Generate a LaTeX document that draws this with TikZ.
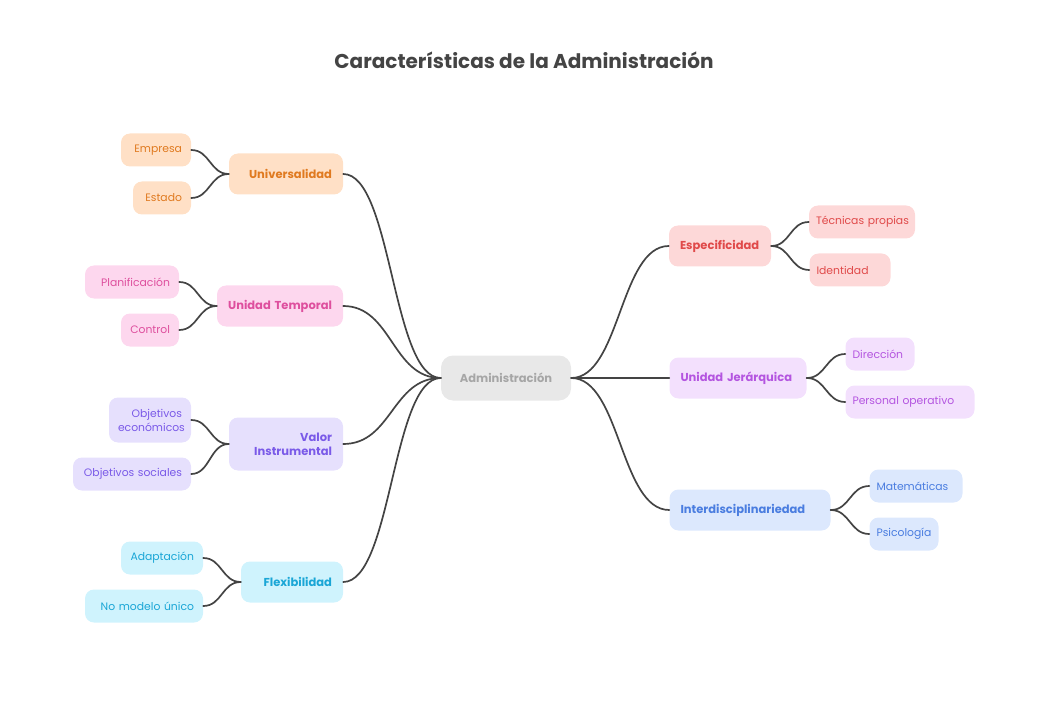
\documentclass[tikz,border=0pt]{standalone}
\usepackage{fontspec}
\setmainfont{Poppins}
\usetikzlibrary{calc}
\definecolor{ink}{HTML}{444444}
\definecolor{grayF}{HTML}{E8E8E8}\definecolor{grayT}{HTML}{A6A6A6}
\definecolor{orF}{HTML}{FFE0C6}\definecolor{orT}{HTML}{E07A20}
\definecolor{piF}{HTML}{FDD7EE}\definecolor{piT}{HTML}{DE4F9E}
\definecolor{puF}{HTML}{E6E0FD}\definecolor{puT}{HTML}{7A5AE8}
\definecolor{cyF}{HTML}{CFF3FD}\definecolor{cyT}{HTML}{1AA6D6}
\definecolor{reF}{HTML}{FDD8D8}\definecolor{reT}{HTML}{E04A4A}
\definecolor{viF}{HTML}{F3E0FD}\definecolor{viT}{HTML}{B455E0}
\definecolor{blF}{HTML}{DCE8FD}\definecolor{blT}{HTML}{4A7DE0}
\tikzset{
  box/.style={rounded corners=9pt, inner xsep=9pt, inner ysep=0pt, minimum height=33pt, font=\fontsize{10.8}{13}\selectfont, draw=none},
  leafL/.style={box, align=right},
  leafR/.style={box, align=left, inner xsep=7pt},
  branchL/.style={box, align=right, minimum height=41pt, font=\bfseries\fontsize{11.5}{14}\selectfont, inner xsep=11pt},
  branchR/.style={box, align=left, minimum height=41pt, font=\bfseries\fontsize{11.5}{14}\selectfont, inner xsep=11pt},
  conn/.style={draw=ink, line width=1.7pt, line cap=round},
}
\newcommand\hlink[2]{\draw[conn] let \p1=(#1), \p2=(#2) in (\p1) .. controls ({(\x1+\x2)/2},\y1) and ({(\x1+\x2)/2},\y2) .. (\p2);}
\begin{document}
\begin{tikzpicture}[x=1pt,y=-1pt]
\useasboundingbox (0,0) rectangle (1048,708);
\node[font=\bfseries\fontsize{20}{22}\selectfont, text=ink] (title) at (524,60) {Características de la Administración};
% root
\node[box, fill=grayF, text=grayT, font=\bfseries\fontsize{11.5}{14}\selectfont, minimum width=130pt, minimum height=45pt, rounded corners=12pt] (root) at (506,378) {Administración};
% left branches
\node[branchL, fill=orF, text=orT, text width=92pt] (uni) at (286,174) {Universalidad};
\node[branchL, fill=piF, text=piT, text width=104pt] (ut) at (280,306) {Unidad Temporal};
\node[branchL, fill=puF, text=puT, text width=92pt, minimum height=53pt] (vi) at (286,444) {Valor\\Instrumental};
\node[branchL, fill=cyF, text=cyT, text width=80pt] (fl) at (292,582) {Flexibilidad};
% right branches
\node[branchR, fill=reF, text=reT, text width=80pt] (es) at (720,246) {Especificidad};
\node[branchR, fill=viF, text=viT, text width=115pt] (uj) at (738,378) {Unidad Jerárquica};
\node[branchR, fill=blF, text=blT, text width=139pt] (in) at (750,510) {Interdisciplinariedad};
% left leaves
\node[leafL, fill=orF, text=orT, text width=52pt] (emp) at (156,150) {Empresa};
\node[leafL, fill=orF, text=orT, text width=40pt] (est) at (162,198) {Estado};
\node[leafL, fill=piF, text=piT, text width=76pt] (pla) at (132,282) {Planificación};
\node[leafL, fill=piF, text=piT, text width=40pt] (con) at (150,330) {Control};
\node[leafL, fill=puF, text=puT, text width=64pt, minimum height=45pt, font=\fontsize{10.8}{14}\selectfont] (oe) at (150,420) {Objetivos\\económicos};
\node[leafL, fill=puF, text=puT, text width=100pt] (os) at (132,474) {Objetivos sociales};
\node[leafL, fill=cyF, text=cyT, text width=64pt] (ad) at (162,558) {Adaptación};
\node[leafL, fill=cyF, text=cyT, text width=100pt] (nm) at (144,606) {No modelo único};
% right leaves
\node[leafR, fill=reF, text=reT, text width=98pt, inner xsep=4pt] (tp) at (862,222) {\hspace*{3pt}\mbox{Técnicas propias}};
\node[leafR, fill=reF, text=reT, text width=67pt] (id) at (850,270) {Identidad};
\node[leafR, fill=viF, text=viT, text width=55pt] (di) at (880,354) {Dirección};
\node[leafR, fill=viF, text=viT, text width=115pt] (po) at (910,402) {Personal operativo};
\node[leafR, fill=blF, text=blT, text width=79pt] (ma) at (916,486) {Matemáticas};
\node[leafR, fill=blF, text=blT, text width=55pt] (ps) at (904,534) {Psicología};
% connectors root
\hlink{root.west}{uni.east}
\hlink{root.west}{ut.east}
\hlink{root.west}{vi.east}
\hlink{root.west}{fl.east}
\hlink{root.east}{es.west}
\hlink{root.east}{uj.west}
\hlink{root.east}{in.west}
% connectors leaves
\hlink{uni.west}{emp.east}
\hlink{uni.west}{est.east}
\hlink{ut.west}{pla.east}
\hlink{ut.west}{con.east}
\hlink{vi.west}{oe.east}
\hlink{vi.west}{os.east}
\hlink{fl.west}{ad.east}
\hlink{fl.west}{nm.east}
\hlink{es.east}{tp.west}
\hlink{es.east}{id.west}
\hlink{uj.east}{di.west}
\hlink{uj.east}{po.west}
\hlink{in.east}{ma.west}
\hlink{in.east}{ps.west}
\end{tikzpicture}
\end{document}
